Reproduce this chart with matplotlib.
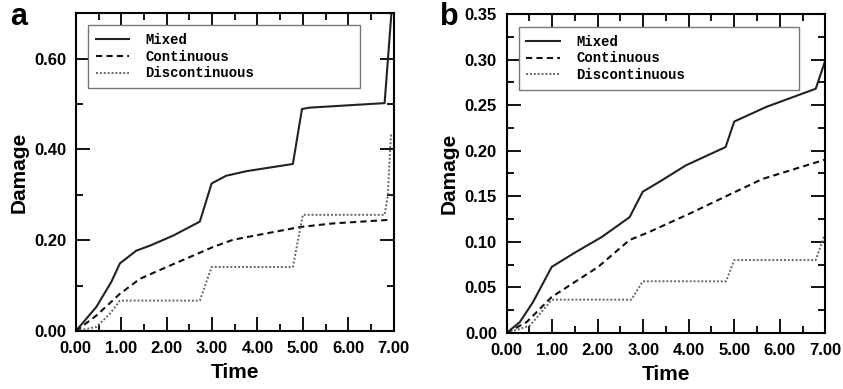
import matplotlib
matplotlib.use("Agg")
import matplotlib.pyplot as plt
from matplotlib.ticker import MultipleLocator, FormatStrFormatter

# panel a
time_a_mixed = [0.0, 0.45, 0.78, 0.97, 1.33, 1.63, 2.14, 2.73, 2.99, 3.31, 3.75, 4.78, 4.98, 5.14, 6.80, 6.95]
dmg_a_mixed = [0.0, 0.053, 0.108, 0.149, 0.177, 0.188, 0.210, 0.241, 0.325, 0.342, 0.352, 0.368, 0.489, 0.492, 0.502, 0.70]
time_a_cont = [0.0, 0.45, 0.97, 1.41, 2.0, 3.02, 3.46, 4.93, 5.66, 6.92]
dmg_a_cont = [0.0, 0.034, 0.082, 0.115, 0.141, 0.185, 0.201, 0.229, 0.237, 0.245]
time_a_disc = [0.0, 0.45, 0.75, 0.97, 2.73, 2.99, 4.78, 5.0, 6.80, 6.87, 6.94]
dmg_a_disc = [0.0, 0.009, 0.038, 0.067, 0.067, 0.141, 0.141, 0.256, 0.256, 0.298, 0.434]

# panel b
time_b_mixed = [0.0, 0.29, 0.58, 0.99, 1.46, 1.75, 2.08, 2.70, 2.99, 3.36, 3.94, 4.81, 5.0, 5.7, 6.79, 7.0]
dmg_b_mixed = [0.0, 0.012, 0.034, 0.0725, 0.087, 0.0955, 0.105, 0.127, 0.155, 0.166, 0.184, 0.204, 0.232, 0.248, 0.268, 0.299]
time_b_cont = [0.0, 0.44, 0.99, 2.01, 2.70, 3.14, 4.02, 4.86, 5.62, 6.98]
dmg_b_cont = [0.0, 0.012, 0.0395, 0.0725, 0.102, 0.111, 0.131, 0.151, 0.169, 0.190]
time_b_disc = [0.0, 0.51, 0.95, 1.02, 2.74, 2.99, 4.82, 5.0, 6.79, 6.98]
dmg_b_disc = [0.0, 0.008, 0.034, 0.0366, 0.0366, 0.0567, 0.0567, 0.080, 0.080, 0.107]

labels = ["Mixed", "Continuous", "Discontinuous"]
sans = ["Liberation Sans Narrow", "Liberation Sans", "DejaVu Sans"]


def draw_panel(ax, series, ymax, ymajor, yminor, leg_box):
    styles = [dict(color="#222222", lw=1.5, ls="-"),
              dict(color="#111111", lw=1.5, ls=(0, (3, 2))),
              dict(color="#666666", lw=1.4, ls=(0, (1, 1)))]
    for (t, d), lab, st in zip(series, labels, styles):
        ax.plot(t, d, label=lab, **st)
    ax.set_xlim(0, 7)
    ax.set_ylim(0, ymax)
    ax.xaxis.set_major_locator(MultipleLocator(1))
    ax.xaxis.set_minor_locator(MultipleLocator(0.5))
    ax.yaxis.set_major_locator(MultipleLocator(ymajor))
    ax.yaxis.set_minor_locator(MultipleLocator(yminor))
    ax.xaxis.set_major_formatter(FormatStrFormatter("%.2f"))
    ax.yaxis.set_major_formatter(FormatStrFormatter("%.2f"))
    ax.tick_params(which="both", direction="in", top=True, right=True, width=1.3)
    ax.tick_params(which="major", length=10, pad=7)
    ax.tick_params(which="minor", length=5)
    for lbl in ax.get_xticklabels() + ax.get_yticklabels():
        lbl.set_family(sans)
        lbl.set_fontweight("bold")
        lbl.set_fontsize(12)
    for sp in ax.spines.values():
        sp.set_linewidth(1.5)
    ax.set_xlabel("Time", family=sans, fontweight="bold", fontsize=15, labelpad=5)
    ax.set_ylabel("Damage", family=sans, fontweight="bold", fontsize=15)
    leg = ax.legend(loc="upper left", bbox_to_anchor=leg_box, mode="expand",
                    prop={"family": "Liberation Mono", "weight": "bold", "size": 10},
                    fancybox=False, framealpha=1, edgecolor="#777777",
                    handlelength=2.4, handletextpad=1.2, labelspacing=0.2,
                    borderaxespad=0, borderpad=0.55)
    leg.get_frame().set_linewidth(1.0)
    return leg


fig = plt.figure(figsize=(8.43, 3.89), dpi=100)
ax1 = fig.add_axes([0.090, 0.149, 0.377, 0.817])
ax2 = fig.add_axes([0.601, 0.144, 0.378, 0.820])

draw_panel(ax1, [(time_a_mixed, dmg_a_mixed), (time_a_cont, dmg_a_cont), (time_a_disc, dmg_a_disc)],
           0.70, 0.2, 0.1, (0.038, 0.764, 0.855, 0.198))
draw_panel(ax2, [(time_b_mixed, dmg_b_mixed), (time_b_cont, dmg_b_cont), (time_b_disc, dmg_b_disc)],
           0.35, 0.05, 0.025, (0.038, 0.765, 0.881, 0.194))

fig.text(0.012, 0.935, "a", family=sans, fontweight="bold", fontsize=22)
fig.text(0.522, 0.935, "b", family=sans, fontweight="bold", fontsize=22)

fig.savefig("out.png", dpi=100)
